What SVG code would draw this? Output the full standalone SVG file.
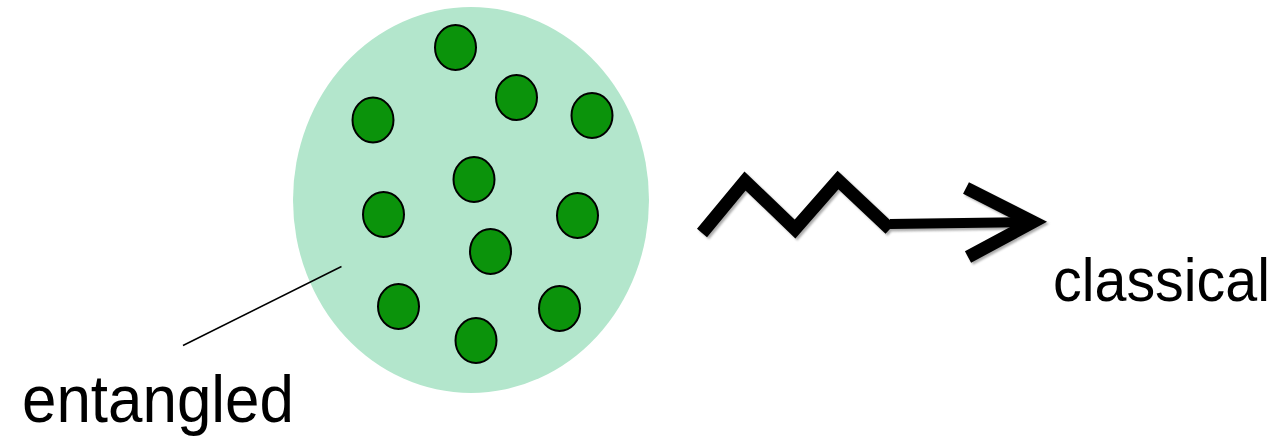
<svg xmlns="http://www.w3.org/2000/svg" width="1286" height="436" viewBox="0 0 1286 436">
<style>
.dot{fill:#0b930b;stroke:#000;stroke-width:2}
.lbl{font-family:"Liberation Sans",Arial,sans-serif;fill:#000}
.wig{fill:none;stroke-linecap:butt;stroke-linejoin:miter}
</style>
<defs>
<filter id="soft" x="-10%" y="-30%" width="120%" height="160%">
<feGaussianBlur stdDeviation="1.2"/>
</filter>
</defs>
<rect width="1286" height="436" fill="#fff"/>
<g id="cloud">
<ellipse cx="471" cy="200" rx="178" ry="193" fill="#b3e6cc"/>
</g>
<g id="particles">
<ellipse class="dot" cx="455.5" cy="47.5" rx="20.5" ry="22.5"/>
<ellipse class="dot" cx="516.5" cy="97.5" rx="20.5" ry="22.5"/>
<ellipse class="dot" cx="592" cy="115.5" rx="20.5" ry="22.5"/>
<ellipse class="dot" cx="373" cy="120" rx="20.5" ry="22.5"/>
<ellipse class="dot" cx="474" cy="179.5" rx="20.5" ry="22.5"/>
<ellipse class="dot" cx="383.5" cy="214.5" rx="20.5" ry="22.5"/>
<ellipse class="dot" cx="577.5" cy="215.5" rx="20.5" ry="22.5"/>
<ellipse class="dot" cx="490.5" cy="251.5" rx="20.5" ry="22.5"/>
<ellipse class="dot" cx="398.5" cy="306.5" rx="20.5" ry="22.5"/>
<ellipse class="dot" cx="559.5" cy="308.5" rx="20.5" ry="22.5"/>
<ellipse class="dot" cx="476" cy="340.5" rx="20.5" ry="22.5"/>
</g>
<g id="connectors">
<line x1="183" y1="345.5" x2="341.5" y2="266.5" stroke="#000" stroke-width="1.5"/>
<g id="wiggle-arrow">
<g transform="translate(2,2)" stroke="#888" opacity="0.7" filter="url(#soft)">
<polyline class="wig" points="702,233 745,181 795,229 838,180 890,229" stroke-width="13"/>
<line x1="890" y1="224" x2="1028" y2="222" stroke-width="11"/>
<polyline class="wig" points="966,188 1033,222 968,257" stroke-width="13"/>
</g>
<polyline class="wig" points="702,233 745,181 795,229 838,180 890,229" stroke="#000" stroke-width="13"/>
<line x1="890" y1="224" x2="1028" y2="222" stroke="#000" stroke-width="10"/>
<polyline class="wig" points="966,188 1033,222 968,257" stroke="#000" stroke-width="13"/>
</g>
</g>
<g id="label-entangled"><text class="lbl" x="22" y="422" font-size="66" textLength="272" lengthAdjust="spacingAndGlyphs">entangled</text></g>
<g id="label-classical"><text class="lbl" x="1053" y="301" font-size="62" textLength="217" lengthAdjust="spacingAndGlyphs">classical</text></g>
</svg>
